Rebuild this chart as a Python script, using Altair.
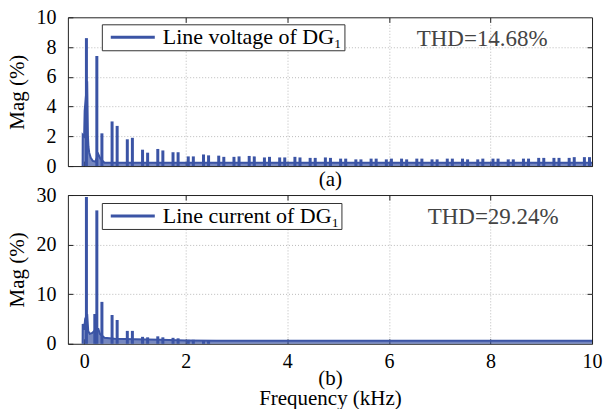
import altair as alt
import pandas as pd

BLUE = "#3b54a5"
FONT = "Liberation Serif"

# ---------------- panel (a): line voltage spectrum ----------------
v_peak_freq = [0.045, 0.25, 0.35, 0.55, 0.65, 0.85, 0.95, 1.15, 1.25, 1.45, 1.55,
               1.75, 1.85, 2.05, 2.15, 2.35, 2.45, 2.65, 2.75, 2.95, 3.05, 3.25,
               3.35, 3.55, 3.65, 3.85, 3.95, 4.15, 4.25, 4.45, 4.55, 4.75, 4.85,
               5.05, 5.15, 5.35, 5.45, 5.65, 5.75, 5.95, 6.05, 6.25, 6.35, 6.55,
               6.65, 6.85, 6.95, 7.15, 7.25, 7.45, 7.55, 7.75, 7.85, 8.05, 8.15,
               8.35, 8.45, 8.65, 8.75, 8.95, 9.05, 9.25, 9.35, 9.55, 9.65, 9.85, 9.95]
v_peak_mag = [8.6, 7.4, 2.2, 3.0, 2.7, 1.8, 1.9, 1.1, 0.9, 1.15, 1.05,
              0.93, 0.93, 0.65, 0.65, 0.78, 0.72, 0.7, 0.62, 0.62, 0.65, 0.68,
              0.65, 0.58, 0.62, 0.58, 0.58, 0.62, 0.58, 0.55, 0.55, 0.58, 0.55,
              0.5, 0.5, 0.45, 0.45, 0.5, 0.5, 0.45, 0.5, 0.5, 0.45, 0.5,
              0.5, 0.45, 0.45, 0.5, 0.5, 0.5, 0.45, 0.45, 0.5, 0.5, 0.5,
              0.45, 0.45, 0.5, 0.5, 0.55, 0.55, 0.55, 0.55, 0.55, 0.6, 0.6, 0.6]
v_floor_freq = [-0.03, -0.028, 0.0, 0.01, 0.03, 0.06, 0.075, 0.085, 0.1, 0.13,
                0.17, 0.22, 0.28, 0.32, 0.4, 10.0]
v_floor_mag = [0.0, 2.1, 2.0, 3.7, 4.5, 5.7, 2.0, 1.3, 0.9, 0.55,
               0.35, 0.3, 0.8, 0.5, 0.22, 0.22]
v_series = "Line voltage of DG\u2081"
v_thd = "THD=14.68%"
v_ticks = [0, 2, 4, 6, 8, 10]
v_grid = [2, 4, 6, 8]

# ---------------- panel (b): line current spectrum ----------------
i_peak_freq = [0.045, 0.21, 0.25, 0.35, 0.55, 0.65, 0.85, 0.95, 1.15, 1.25,
               1.45, 1.55, 1.75, 1.85, 2.05, 2.15, 2.35, 2.45]
i_peak_mag = [29.6, 6.0, 26.9, 8.45, 5.8, 4.8, 2.6, 2.6, 1.4, 1.3,
              1.5, 1.3, 1.2, 1.1, 0.8, 0.8, 0.75, 0.75]
i_floor_freq = [-0.03, -0.028, 0.0, 0.02, 0.06, 0.08, 0.11, 0.16, 0.19, 0.23,
                0.28, 0.31, 0.4, 0.6, 1.0, 1.5, 2.0, 2.6, 10.0]
i_floor_mag = [0.0, 4.0, 2.8, 5.0, 6.0, 2.6, 2.0, 2.2, 2.5, 3.0,
               3.0, 2.0, 1.2, 1.0, 0.9, 0.8, 0.65, 0.6, 0.6]
i_series = "Line current of DG\u2081"
i_thd = "THD=29.24%"
i_ticks = [0, 10, 20, 30]
i_grid = [10, 20]

x_ticks = [0, 2, 4, 6, 8, 10]
x_grid = [2, 4, 6, 8]
x_domain = [-0.32, 10]

W, H = 525, 149

AX = dict(labelFont=FONT, titleFont=FONT, labelFontSize=20, titleFontSize=21,
          labelColor="black", titleColor="black", tickColor="#222222",
          titleFontWeight="normal", labelFontWeight="normal")


def panel(peak_f, peak_m, floor_f, floor_m, ymax, yticks, ygrid, series, thd,
          xtitle, show_labels, thd_x, legend_y):
    peaks = pd.DataFrame({"f": peak_f, "m": peak_m, "s": series})
    floor = pd.DataFrame({"f": floor_f, "m": floor_m})
    thd_df = pd.DataFrame({"t": [thd]})
    xs = alt.Scale(domain=x_domain, nice=False, zero=False)
    ys = alt.Scale(domain=[0, ymax], nice=False)

    x_main = alt.Axis(orient="bottom", values=x_ticks, offset=-5, tickSize=5,
                      domain=False, grid=False, labels=show_labels,
                      labelPadding=8, labelFlush=False, title=xtitle,
                      titlePadding=-4 if show_labels else 2,
                      titleLineHeight=20, **AX)
    y_main = alt.Axis(orient="left", values=yticks, offset=-5, tickSize=5,
                      domain=False, grid=False, labelPadding=12,
                      title="Mag (%)", titlePadding=8, **AX)
    x_top = alt.Axis(orient="top", values=x_grid, offset=-5, tickSize=5,
                     domain=False, labels=False, title=None, grid=True,
                     gridDash=[1, 2], gridColor="#aaaaaa", gridWidth=0.8,
                     tickColor="#222222")
    y_right = alt.Axis(orient="right", values=ygrid, offset=-5, tickSize=5,
                       domain=False, labels=False, title=None, grid=True,
                       gridDash=[1, 2], gridColor="#aaaaaa", gridWidth=0.8,
                       tickColor="#222222")

    area = alt.Chart(floor).mark_area(
        color=BLUE, interpolate="linear",
        line={"color": BLUE, "strokeWidth": 2}
    ).encode(
        x=alt.X("f:Q", scale=xs, axis=x_main),
        y=alt.Y("m:Q", scale=ys, axis=y_main),
    )
    spikes = alt.Chart(peaks).mark_rule(strokeWidth=3).encode(
        x=alt.X("f:Q", scale=xs, axis=x_top),
        y=alt.Y("m:Q", scale=ys, axis=y_right),
        y2=alt.datum(0),
        color=alt.Color("s:N", scale=alt.Scale(range=[BLUE]),
                        legend=alt.Legend(
                            orient="none", legendX=34, legendY=legend_y,
                            title=None, symbolType="M-2.45,0H2.45",
                            symbolSize=324, symbolStrokeWidth=3,
                            symbolFillColor="transparent",
                            labelFont=FONT, labelFontSize=22,
                            labelColor="black", strokeColor="#333333",
                            fillColor="white", padding=2, labelOffset=19,
                            symbolOffset=18,
                            labelExpr="datum.label + ' '", labelLimit=400)),
    )
    text = alt.Chart(thd_df).mark_text(
        font=FONT, fontSize=23, color="#444444", align="center",
        baseline="alphabetic"
    ).encode(text="t:N", x=alt.value(thd_x), y=alt.value(29))
    return alt.layer(area, spikes, text).resolve_axis(
        x="independent", y="independent").properties(width=W, height=H)


top = panel(v_peak_freq, v_peak_mag, v_floor_freq, v_floor_mag, 10, v_ticks,
            v_grid, v_series, v_thd, "(a)", False, 415, 7)
bottom = panel(i_peak_freq, i_peak_mag, i_floor_freq, i_floor_mag, 30, i_ticks,
               i_grid, i_series, i_thd, ["(b)", "Frequency (kHz)"], True, 426, 8)

chart = alt.vconcat(top, bottom, spacing=29, bounds="flush").resolve_scale(
    x="independent", y="independent", color="independent"
).resolve_legend(color="independent").properties(
    padding={"left": 6, "top": 6, "right": 2, "bottom": 2}
).configure_view(
    stroke="#222222", strokeWidth=1
).configure_axis(**AX)

chart.save("out.html", embed_options={"renderer": "svg", "actions": False})
